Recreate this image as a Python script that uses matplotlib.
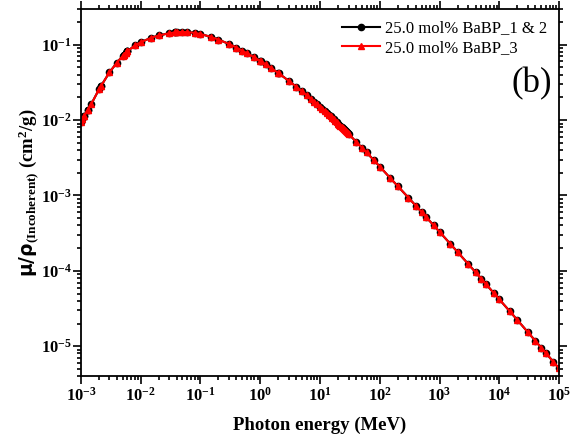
import matplotlib
matplotlib.use("Agg")
import matplotlib.pyplot as plt
from matplotlib.ticker import LogLocator, NullFormatter

plt.rcParams['font.family'] = ['Liberation Serif', 'DejaVu Serif']
plt.rcParams['font.weight'] = 'bold'
plt.rcParams['mathtext.fontset'] = 'custom'
plt.rcParams['mathtext.rm'] = 'Liberation Serif:bold'
plt.rcParams['mathtext.it'] = 'Liberation Serif:bold'
plt.rcParams['mathtext.bf'] = 'Liberation Serif:bold'
plt.rcParams['mathtext.sf'] = 'DejaVu Sans:bold'

# photon energy (MeV), incl. duplicated absorption-edge energies
energy = [1e-3, 1.062e-3, 1.062e-3, 1.137e-3, 1.137e-3, 1.293e-3, 1.293e-3,
          1.5e-3, 2e-3, 2.1455e-3, 2.1455e-3, 3e-3, 4e-3, 5e-3,
          5.247e-3, 5.247e-3, 5.624e-3, 5.624e-3, 5.989e-3, 5.989e-3, 6e-3,
          8e-3, 1e-2, 1.5e-2, 2e-2, 3e-2, 3.744e-2, 3.744e-2, 4e-2, 5e-2,
          6e-2, 8e-2, 0.1, 0.15, 0.2, 0.3, 0.4, 0.5, 0.6, 0.8, 1.0, 1.022,
          1.25, 1.5, 2.0, 2.044, 3, 4, 5, 6, 7, 8, 9, 10, 11, 12, 13, 14, 15,
          16, 17, 18, 19, 20, 21, 22, 23, 24, 25, 26, 27, 28, 29, 30, 40, 50,
          60, 80, 100, 150, 200, 300, 400, 500, 600, 800, 1000, 1500, 2000,
          3000, 4000, 5000, 6000, 8000, 1e4, 1.5e4, 2e4, 3e4, 4e4, 5e4, 6e4,
          8e4, 1e5]

# incoherent mass attenuation coefficient (cm2/g), BaBP_1 & 2
mu_12 = [0.0095, 0.0105, 0.0105, 0.0115, 0.0115, 0.0135, 0.0135,
         0.0165, 0.0255, 0.028, 0.028, 0.043, 0.058, 0.071,
         0.074, 0.074, 0.078, 0.078, 0.082, 0.082, 0.082,
         0.098, 0.108, 0.124, 0.133, 0.142, 0.146, 0.146, 0.147, 0.148,
         0.147, 0.144, 0.139, 0.127, 0.117, 0.1025, 0.092, 0.0835, 0.0773,
         0.0679, 0.061, 0.0604, 0.0548, 0.0495, 0.0423, 0.0418, 0.0332,
         0.0278, 0.0241, 0.0213, 0.0192, 0.01754, 0.01616, 0.0150, 0.01408,
         0.01322, 0.01247, 0.01181, 0.01123, 0.01068, 0.01022, 0.00979,
         0.00939, 0.00901, 0.0087, 0.00838, 0.00809, 0.00783, 0.00757,
         0.00734, 0.00714, 0.00694, 0.00674, 0.00657, 5.19e-3, 4.33e-3,
         3.72e-3, 2.93e-3, 2.42e-3, 1.70e-3, 1.33e-3, 9.4e-4, 7.33e-4,
         6.04e-4, 5.15e-4, 4.0e-4, 3.29e-4, 2.30e-4, 1.78e-4, 1.24e-4,
         9.58e-5, 7.83e-5, 6.64e-5, 5.12e-5, 4.18e-5, 2.90e-5, 2.23e-5,
         1.535e-5, 1.18e-5, 9.6e-6, 8.12e-6, 6.22e-6, 5.06e-6]

# BaBP_3 overlaps BaBP_1 & 2 everywhere on the plot
mu_3 = list(mu_12)

fig = plt.figure(figsize=(5.74, 4.41), dpi=100)
ax = fig.add_axes([0.141, 0.147, 0.833, 0.833])

ax.plot(energy, mu_12, color='black', linewidth=1.5, marker='o', markersize=4.5,
        label='25.0 mol% BaBP_1 & 2')
ax.plot(energy, mu_3, color='red', linewidth=1.5, marker='^', markersize=5,
        label='25.0 mol% BaBP_3')

ax.set_xscale('log')
ax.set_yscale('log')
ax.set_xlim(1e-3, 1e5)
ax.set_ylim(4e-6, 0.3)

ax.xaxis.set_major_locator(LogLocator(base=10, numticks=20))
ax.xaxis.set_minor_locator(LogLocator(base=10, subs=range(2, 10), numticks=100))
ax.xaxis.set_minor_formatter(NullFormatter())
ax.yaxis.set_major_locator(LogLocator(base=10, numticks=20))
ax.yaxis.set_minor_locator(LogLocator(base=10, subs=range(2, 10), numticks=100))
ax.yaxis.set_minor_formatter(NullFormatter())

ax.tick_params(which='both', direction='out', top=True, right=True, width=1.2)
ax.tick_params(which='major', length=6, labelsize=12, pad=2)
ax.tick_params(axis='y', which='major', pad=0.5)
ax.tick_params(which='minor', length=3)
for s in ax.spines.values():
    s.set_linewidth(1.3)

ax.set_xlabel('Photon energy (MeV)', fontsize=13.5, fontweight='bold', labelpad=8)
ax.set_ylabel(r'$\mathsf{\mu/\rho}_{\mathbf{(Incoherent)}}$ (cm$^{\mathbf{2}}$/g)',
              fontsize=13.5, fontweight='bold', labelpad=0)

ax.legend(loc='upper right', frameon=False, prop={'size': 12, 'weight': 'normal'},
          handlelength=2.3, borderaxespad=0.3, labelspacing=0.2, handletextpad=0.3)
ax.text(0.985, 0.795, '(b)', transform=ax.transAxes, fontsize=25,
        fontweight='normal', ha='right', va='center')

fig.savefig('out.png', dpi=100)
